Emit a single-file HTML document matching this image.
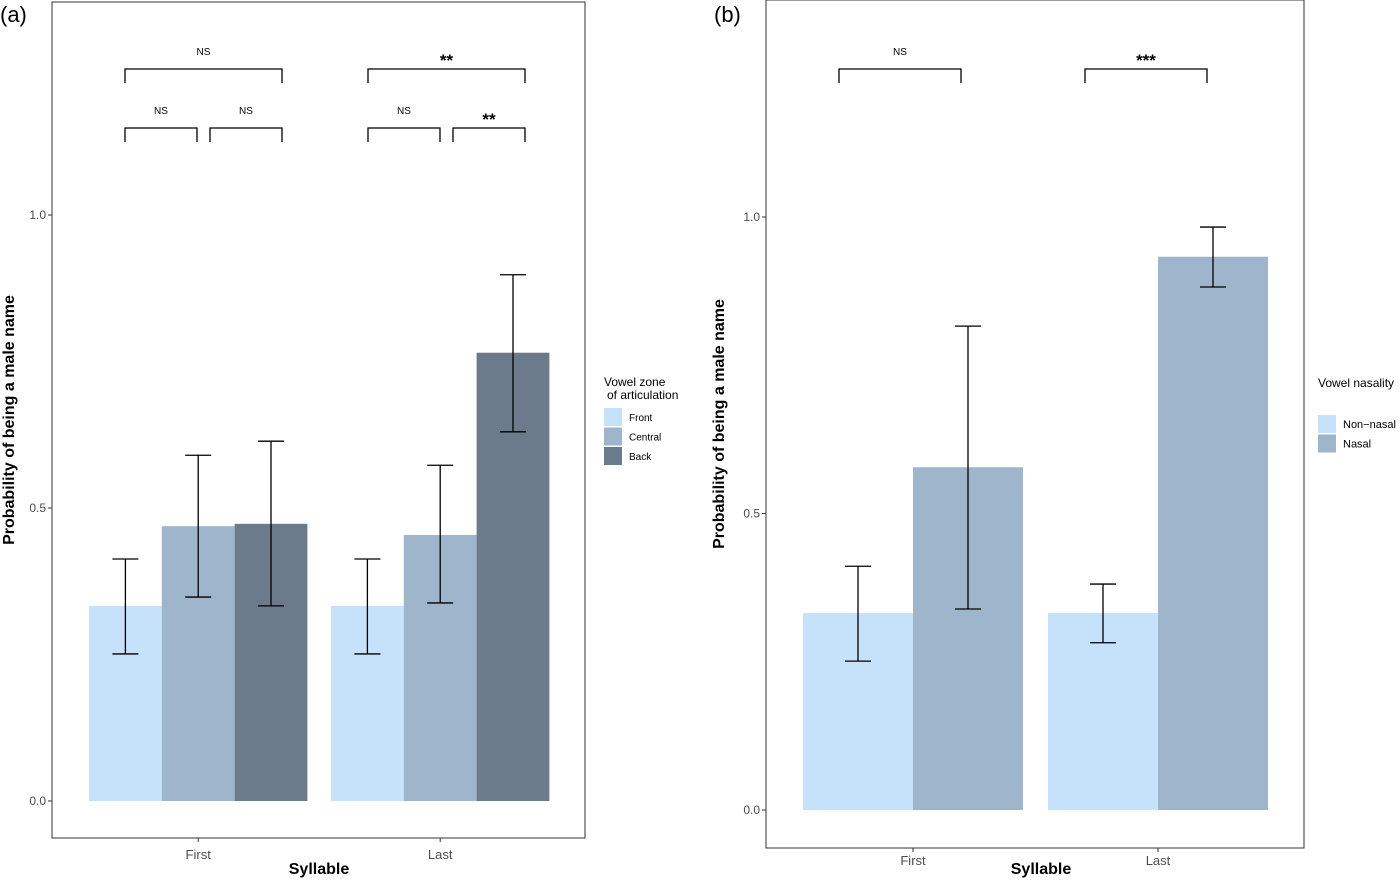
<!DOCTYPE html>
<html><head><meta charset="utf-8"><style>
body{margin:0;background:#fff;}
svg text{font-family:"Liberation Sans",Arial,sans-serif;}
</style></head><body>
<svg id="chart" width="1400" height="878" xmlns="http://www.w3.org/2000/svg"></svg>
<script>
// Panel (a) data
const catsA = ["First","Last"];
const zonesA = ["Front","Central","Back"];
const valsA = [[0.333,0.469,0.473],[0.333,0.454,0.765]];
const loA = [[0.251,0.348,0.333],[0.251,0.338,0.630]];
const hiA = [[0.413,0.590,0.614],[0.413,0.573,0.898]];
const ticksA = [0,0.5,1.0];
const tickLabelsA = ["0.0","0.5","1.0"];
// Panel (b) data
const catsB = ["First","Last"];
const groupsB = ["Non\u2212nasal","Nasal"];
const valsB = [[0.332,0.578],[0.332,0.933]];
const loB = [[0.251,0.339],[0.282,0.882]];
const hiB = [[0.411,0.816],[0.381,0.983]];
const ticksB = [0,0.5,1.0];
const tickLabelsB = ["0.0","0.5","1.0"];

const NS="http://www.w3.org/2000/svg";
const svg=document.getElementById('chart');
function mk(tag,attrs,parent){const e=document.createElementNS(NS,tag);for(const k in attrs)e.setAttribute(k,attrs[k]);(parent||svg).appendChild(e);return e;}
function txt(s,attrs,parent){const e=mk('text',attrs,parent);e.textContent=s;return e;}
const colorsA=["#c6e2fb","#9fb5cc","#6b7b8c"];
const colorsB=["#c6e2fb","#9fb5cc"];

function panel(o){
  const g=mk('g',{});
  
  
  const y=v=>o.y0-(o.y0-o.y1)*v;
  const r=mk('rect',{x:o.bx,y:o.by,width:o.bw,height:o.bh,fill:'none',stroke:'#333','stroke-width':1},g);
  
  o.ticks.forEach((t,i)=>{
    const l=mk('line',{x1:o.bx-4,x2:o.bx,y1:y(t),y2:y(t),stroke:'#333'},g);
    
    const tl=txt(o.tickLabels[i],{x:o.bx-6,y:y(t)+4,'text-anchor':'end','font-size':12,fill:'#4d4d4d'},g);
    
  });
  o.cats.forEach((c,ci)=>{
    const gx=o.groupX[ci];
    o.vals[ci].forEach((v,si)=>{
      const x=gx+si*o.barW;
      const b=mk('rect',{x:x,y:y(v),width:o.barW,height:y(0)-y(v),fill:o.colors[si]},g);
      
      
      const cx=x+o.barW/2, hw=13;
      const eg=mk('g',{stroke:'#000','stroke-width':1.3,fill:'none'},g);
      
      
      mk('line',{x1:cx,x2:cx,y1:y(o.lo[ci][si]),y2:y(o.hi[ci][si])},eg);
      mk('line',{x1:cx-hw,x2:cx+hw,y1:y(o.lo[ci][si]),y2:y(o.lo[ci][si])},eg);
      mk('line',{x1:cx-hw,x2:cx+hw,y1:y(o.hi[ci][si]),y2:y(o.hi[ci][si])},eg);
    });
    const mid=gx+o.barW*o.vals[ci].length/2;
    const tk=mk('line',{x1:mid,x2:mid,y1:o.by+o.bh,y2:o.by+o.bh+4,stroke:'#333'},g);
    
    const xl=txt(c,{x:mid,y:o.by+o.bh+o.xLabOff,'text-anchor':'middle','font-size':13,fill:'#4d4d4d'},g);
    
  });
  const xt=txt('Syllable',{x:o.xTitleX,y:874,'text-anchor':'middle','font-size':16,'font-weight':'bold'},g);
  
  const yt=txt('Probability of being a male name',{x:0,y:0,'text-anchor':'middle','font-size':16,'font-weight':'bold',transform:`translate(${o.yTitleX},${(o.by+o.by+o.bh)/2}) rotate(-90)`},g);
  
  const pl=txt(o.label,{x:o.labelX,y:22,'font-size':22},g);
  
  return g;
}
panel({name:'panel-a',bx:52,by:2,bw:533,bh:836,y0:801,y1:215,ticks:ticksA,tickLabels:tickLabelsA,xLabOff:21,
  cats:catsA,vals:valsA,lo:loA,hi:hiA,groupX:[89,331],barW:72.8,colors:colorsA,xTitleX:319,yTitleX:14,label:'(a)',labelX:0});
panel({name:'panel-b',bx:766,by:0,bw:538,bh:848,y0:810,y1:217,ticks:ticksB,tickLabels:tickLabelsB,xLabOff:17,
  cats:catsB,vals:valsB,lo:loB,hi:hiB,groupX:[803,1048],barW:110,colors:colorsB,xTitleX:1041,yTitleX:724,label:'(b)',labelX:714});

// significance brackets
function bracket(x1,x2,yy,label,big,name){
  const g=mk('g',{});
  
  mk('path',{d:`M${x1},${yy+14}V${yy}H${x2}V${yy+14}`,fill:'none',stroke:'#000','stroke-width':1.3},g);
  txt(label,{x:(x1+x2)/2,y:big?yy-3:yy-14,'text-anchor':'middle','font-size':big?17:10,'font-weight':big?'bold':'normal'},g);
}
bracket(125,282,69,'NS',false,'bracket-first-all');
bracket(125,197,128,'NS',false,'bracket-first-fc');
bracket(210,282,128,'NS',false,'bracket-first-cb');
bracket(368,525,69,'**',true,'bracket-last-all');
bracket(368,440,128,'NS',false,'bracket-last-fc');
bracket(453,525,128,'**',true,'bracket-last-cb');
bracket(839,961,69,'NS',false,'bracket-b-first');
bracket(1085,1207,69,'***',true,'bracket-b-last');

// legends
function legend(x,y,titleLines,items,colors,name,fs,sy){
  const g=mk('g',{});
  
  titleLines.forEach((t,i)=>txt(t,{x:x+(i?3:0),y:y+i*13,'font-size':12},g));
  items.forEach((it,i)=>{
    const e=mk('g',{},g);
    
    mk('rect',{x:x,y:sy+i*19.5,width:18,height:18,fill:colors[i]},e);
    txt(it,{x:x+25,y:sy+i*19.5+13,'font-size':fs},e);
  });
}
legend(604,386,['Vowel zone','of articulation'],zonesA,colorsA,'legend-a',10,408);
legend(1318,387,['Vowel nasality'],groupsB,colorsB,'legend-b',11,415);
</script>
</body></html>
